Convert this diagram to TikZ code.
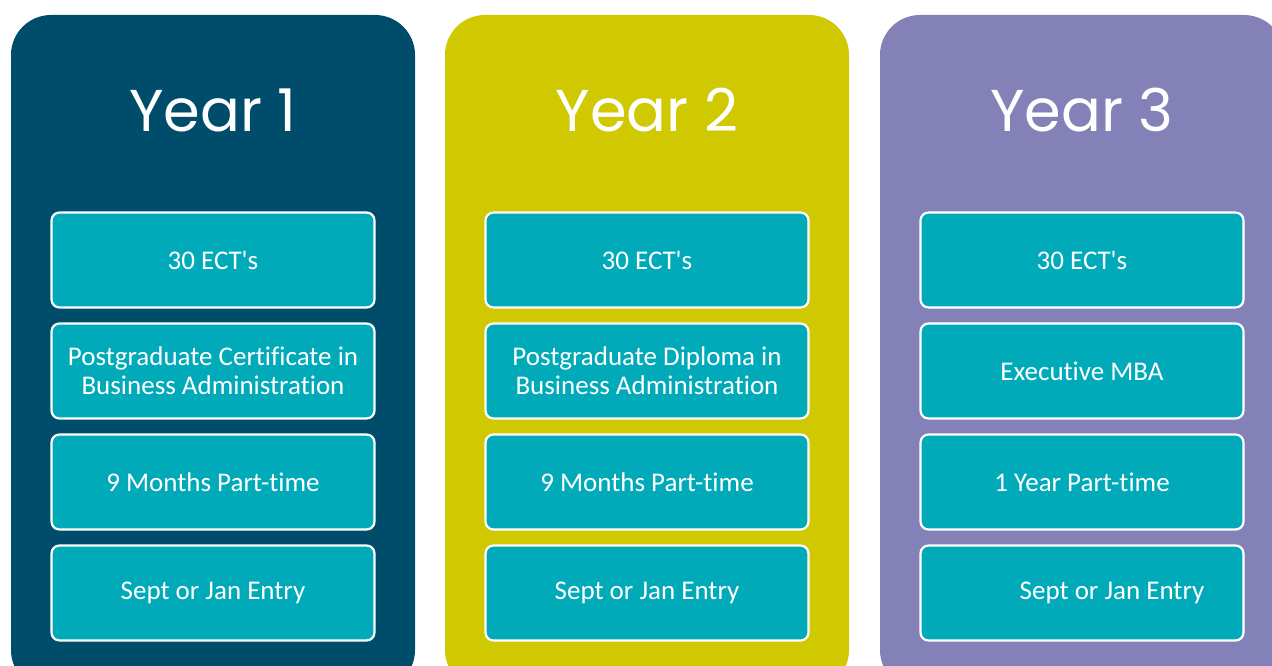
\documentclass[tikz,border=0pt]{standalone}
\usepackage{fontspec}
\setmainfont{Carlito}[Ligatures=CommonOff]
\newfontfamily\titlefont{Poppins}
\definecolor{colA}{RGB}{0,77,107}
\definecolor{colB}{RGB}{208,200,0}
\definecolor{colC}{RGB}{132,128,184}
\definecolor{boxc}{RGB}{0,170,185}
\tikzset{
  column/.style={rounded corners=40pt},
  item/.style={draw=white, line width=2.2pt, fill=boxc, rounded corners=8pt,
    minimum width=323pt, minimum height=95pt, text=white, align=center,
    font=\fontsize{27}{29}\selectfont, inner sep=0pt},
  yeartitle/.style={text=white, font=\titlefont\fontsize{59}{66}\selectfont, inner sep=0pt}
}
\begin{document}
\begin{tikzpicture}[x=1pt,y=-1pt]
\useasboundingbox (0,0) rectangle (1272,666);
\fill[white] (0,0) rectangle (1272,666);
\begin{scope}
\clip (0,0) rectangle (1272,666);
\fill[colA, column] (11,15) rectangle (415,690);
\fill[colB, column] (445,15) rectangle (849,690);
\fill[colC, column] (880,15) rectangle (1284,690);
\end{scope}
% titles
\node[yeartitle] (t1) at (213,110) {Year 1};
\node[yeartitle] (t2) at (647,110) {Year 2};
\node[yeartitle] (t3) at (1082,110) {Year 3};
% column 1
\node[item] (a1) at (213,260) {30 ECT\textquotesingle s};
\node[item] (a2) at (213,371) {Postgraduate Certificate in\\Business Administration};
\node[item] (a3) at (213,482) {9 Months Part-time};
\node[item] (a4) at (213,593) {Sept or Jan Entry};
% column 2
\node[item] (b1) at (647,260) {30 ECT\textquotesingle s};
\node[item] (b2) at (647,371) {Postgraduate Diploma in\\Business Administration};
\node[item] (b3) at (647,482) {9 Months Part-time};
\node[item] (b4) at (647,593) {Sept or Jan Entry};
% column 3
\node[item] (c1) at (1082,260) {30 ECT\textquotesingle s};
\node[item] (c2) at (1082,371) {Executive MBA};
\node[item] (c3) at (1082,482) {1 Year Part-time};
\node[item] (c4) at (1082,593) {\hspace*{60pt}Sept or Jan Entry};
\end{tikzpicture}
\end{document}
